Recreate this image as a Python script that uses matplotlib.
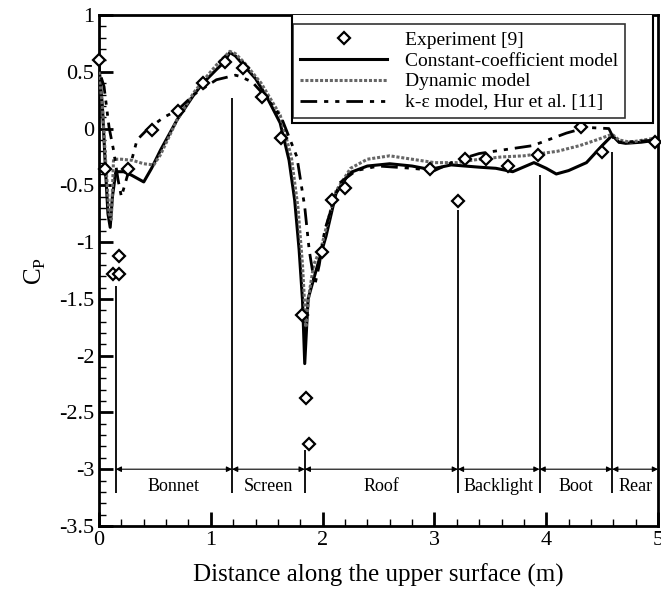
import matplotlib
matplotlib.use("Agg")
import matplotlib.pyplot as plt
from matplotlib.patches import Rectangle
from matplotlib.ticker import MultipleLocator

plt.rcParams['font.family'] = ['Liberation Serif', 'DejaVu Serif']
plt.rcParams['mathtext.fontset'] = 'custom'
plt.rcParams['mathtext.rm'] = 'Liberation Serif'

# experiment [9]
exp_x = [0.0, 0.05, 0.125, 0.18, 0.18, 0.26, 0.47, 0.71, 0.93, 1.125, 1.29, 1.455, 1.625,
         1.82, 1.85, 1.875, 1.99, 2.08, 2.2, 2.96, 3.21, 3.27, 3.46, 3.66, 3.93, 4.31, 4.5, 4.97]
exp_y = [0.60, -0.36, -1.28, -1.28, -1.12, -0.36, -0.01, 0.155, 0.40, 0.586, 0.53, 0.28, -0.08,
         -1.64, -2.37, -2.78, -1.09, -0.63, -0.52, -0.36, -0.64, -0.27, -0.27, -0.33, -0.23, 0.01, -0.21, -0.12]

# constant-coefficient model
const_x = [0.0, 0.03, 0.06, 0.08, 0.10, 0.12, 0.15, 0.22, 0.29, 0.40, 0.47, 0.55, 0.70, 0.85, 0.93,
           1.05, 1.125, 1.17, 1.22, 1.30, 1.40, 1.50, 1.62, 1.70, 1.75, 1.79, 1.82, 1.84, 1.87, 1.95,
           2.03, 2.12, 2.24, 2.40, 2.60, 2.80, 2.96, 3.15, 3.40, 3.55, 3.70, 3.89, 4.00, 4.09, 4.20,
           4.36, 4.50, 4.59, 4.65, 4.71, 4.85, 5.0]
const_y = [0.55, 0.2, -0.4, -0.75, -0.87, -0.6, -0.38, -0.38, -0.41, -0.47, -0.35, -0.19, 0.08, 0.30, 0.40,
           0.52, 0.59, 0.67, 0.64, 0.55, 0.44, 0.28, 0.05, -0.28, -0.63, -1.07, -1.51, -2.07, -1.5, -1.22,
           -0.95, -0.57, -0.39, -0.33, -0.31, -0.33, -0.36, -0.32, -0.34, -0.35, -0.38, -0.30, -0.35, -0.40, -0.37,
           -0.30, -0.15, -0.06, -0.12, -0.13, -0.12, -0.10]

# dynamic model
dyn_x = [0.0, 0.03, 0.06, 0.09, 0.11, 0.13, 0.2, 0.3, 0.4, 0.49, 0.55, 0.7, 0.85, 0.93, 1.05, 1.17,
         1.22, 1.30, 1.45, 1.62, 1.72, 1.78, 1.82, 1.85, 1.88, 1.92, 1.99, 2.05, 2.12, 2.25, 2.4, 2.6,
         2.8, 3.0, 3.2, 3.4, 3.6, 3.8, 3.95, 4.1, 4.3, 4.45, 4.59, 4.65, 4.75, 5.0]
dyn_y = [0.5, 0.2, -0.3, -0.75, -0.8, -0.27, -0.27, -0.28, -0.31, -0.32, -0.23, 0.08, 0.32, 0.42, 0.56, 0.68,
         0.66, 0.58, 0.40, 0.12, -0.25, -0.7, -1.2, -1.75, -1.45, -1.2, -1.04, -0.8, -0.55, -0.35, -0.27, -0.24,
         -0.27, -0.30, -0.30, -0.27, -0.25, -0.24, -0.22, -0.20, -0.15, -0.10, -0.05, -0.10, -0.12, -0.08]

# k-epsilon model, Hur et al. [11]
ke_x = [0.02, 0.045, 0.09, 0.13, 0.17, 0.2, 0.27, 0.34, 0.43, 0.58, 0.70, 0.85, 1.05, 1.22, 1.26, 1.37,
        1.5, 1.63, 1.77, 1.84, 1.88, 1.93, 1.97, 2.02, 2.15, 2.3, 2.5, 2.8, 3.0, 3.2, 3.4, 3.6, 3.88,
        4.18, 4.36, 4.56, 4.62, 4.7, 5.0]
ke_y = [0.45, 0.37, 0.01, -0.19, -0.45, -0.6, -0.36, -0.1, -0.01, 0.10, 0.16, 0.30, 0.43, 0.47, 0.46, 0.41,
        0.27, 0.10, -0.25, -0.69, -1.07, -1.38, -1.2, -0.89, -0.48, -0.37, -0.33, -0.35, -0.37, -0.28, -0.22, -0.19, -0.15,
        -0.04, 0.01, 0.0, -0.12, -0.12, -0.10]

# surface regions
region_names = ['Bonnet', 'Screen', 'Roof', 'Backlight', 'Boot', 'Rear']
region_edges = [0.15, 1.19, 1.84, 3.21, 3.94, 4.59, 5.0]
divider_tops = [-1.39, 0.27, -2.83, -0.72, -0.41, -0.21]

fig = plt.figure(figsize=(6.61, 5.89), dpi=100)
ax = fig.add_axes([0.1498, 0.107, 0.8457, 0.8675])

ax.plot(const_x, const_y, color='black', lw=2.2, label='Constant-coefficient model', zorder=4)
ax.plot(dyn_x, dyn_y, color='0.4', lw=2.2, linestyle=(0, (1, 0.6)), label='Dynamic model', zorder=4)
ax.plot(ke_x, ke_y, color='black', lw=2.0, linestyle=(0, (6, 2.5, 1.5, 2.5, 1.5, 2.5)),
        label='k-ε model, Hur et al. [11]', zorder=4)
ax.plot(exp_x, exp_y, linestyle='none', marker='D', markersize=6.5, markerfacecolor='white',
        markeredgecolor='black', markeredgewidth=1.6, label='Experiment [9]', zorder=5, clip_on=False)

# region dividers, arrows and labels
for i in range(len(region_edges) - 1):
    ax.vlines(region_edges[i], -3.21, divider_tops[i], color='black', lw=1.3, zorder=2)
    ax.annotate('', xy=(region_edges[i], -3.0), xytext=(region_edges[i + 1], -3.0),
                arrowprops=dict(arrowstyle='<|-|>', lw=0.8, color='black', mutation_scale=8,
                                shrinkA=0, shrinkB=0))
    ax.text((region_edges[i] + region_edges[i + 1]) / 2, -3.15, region_names[i],
            ha='center', va='center', fontsize=13)

# legend with outer frame
ax.add_patch(Rectangle((0.345, 0.789), 0.646, 0.25, transform=ax.transAxes, facecolor='white',
                       edgecolor='black', lw=1.5, zorder=6, clip_on=True))
handles, labels = ax.get_legend_handles_labels()
order = [3, 0, 1, 2]
leg = ax.legend([handles[k] for k in order], [labels[k] for k in order], loc='upper left',
                bbox_to_anchor=(0.347, 0.982), fontsize=14, frameon=True, fancybox=False,
                edgecolor='black', handlelength=4.5, numpoints=1, borderpad=0.35,
                labelspacing=0.17, handletextpad=0.9, borderaxespad=0)
leg.get_frame().set_linewidth(1.2)
leg.set_zorder(7)

ax.set_xlim(0, 5)
ax.set_ylim(-3.5, 1)
ax.xaxis.set_major_locator(MultipleLocator(1))
ax.xaxis.set_minor_locator(MultipleLocator(0.2))
ax.yaxis.set_major_locator(MultipleLocator(0.5))
ax.yaxis.set_minor_locator(MultipleLocator(0.1))
ax.tick_params(which='both', direction='in', labelsize=16, top=False, right=False)
ax.tick_params(which='major', length=10, width=2)
ax.tick_params(which='minor', length=5, width=1)
ax.set_yticks([1, 0.5, 0, -0.5, -1, -1.5, -2, -2.5, -3, -3.5])
ax.set_yticklabels(['1', '0.5', '0', '-0.5', '-1', '-1.5', '-2', '-2.5', '-3', '-3.5'])
for sp in ax.spines.values():
    sp.set_linewidth(2)

ax.set_xlabel('Distance along the upper surface (m)', fontsize=18, labelpad=10)
ax.set_ylabel(r'C$_\mathrm{P}$', fontsize=18, labelpad=8)

fig.savefig('out.png', dpi=100)
